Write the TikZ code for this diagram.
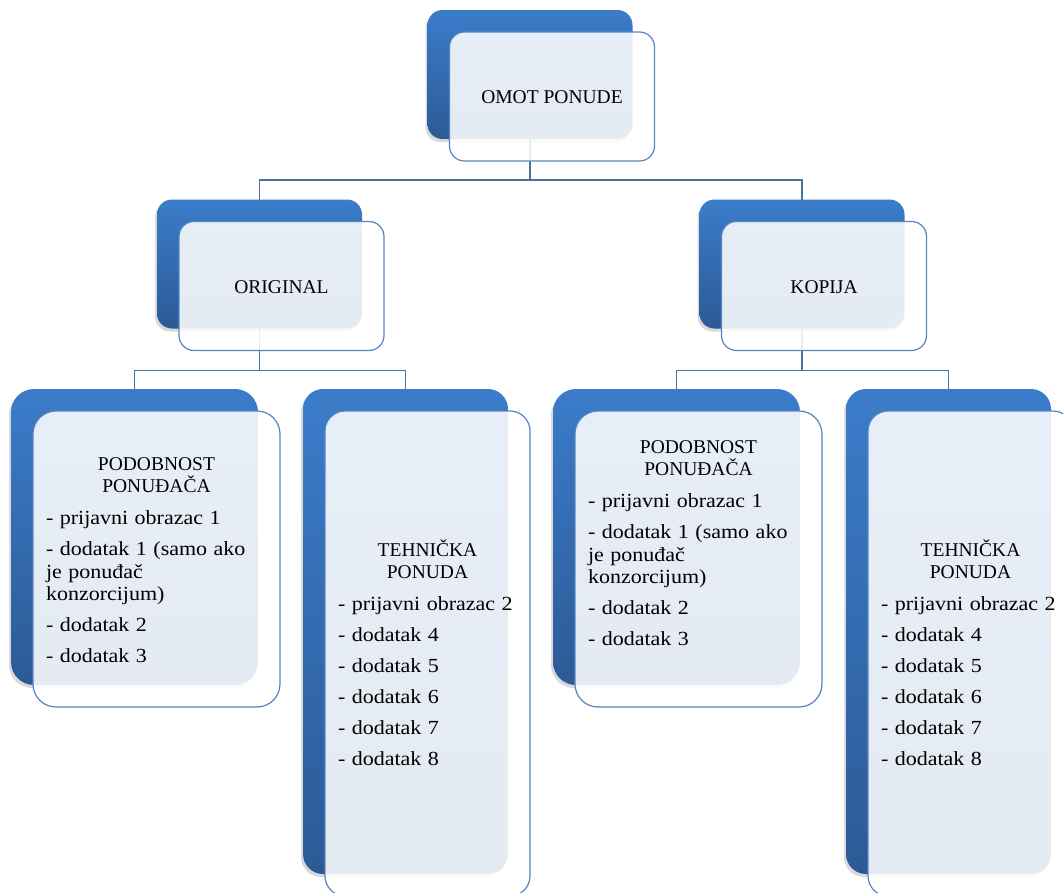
\documentclass[tikz,border=0pt]{standalone}
\usepackage{fontspec}
\setmainfont{Liberation Serif}
\newfontfamily\itemfont{Liberation Serif}[FakeStretch=1.1]
\usepackage{tikz}
\usetikzlibrary{shadows}
\definecolor{boxblue}{HTML}{3B7CCA}
\definecolor{boxdark}{HTML}{2C5A96}
\definecolor{rimblue}{HTML}{5585C1}
\definecolor{linkblue}{HTML}{46739F}
\tikzset{%
    back/.style={rectangle,inner sep=0pt,outer sep=0pt,top color=boxblue,bottom color=boxdark,
        drop shadow={shadow xshift=-2pt,shadow yshift=-3pt,opacity=0.3}},
    front/.style={rectangle,inner sep=0pt,outer sep=0pt,draw=rimblue,line width=1.2pt,fill=white,fill opacity=0.88},
    topsz/.style={minimum width=205pt,minimum height=129pt,rounded corners=15pt},
    podsz/.style={minimum width=247pt,minimum height=296pt,rounded corners=23pt},
    tehsz/.style={minimum width=205pt,minimum height=485pt,rounded corners=20pt},
    ttl/.style={inner sep=0pt,anchor=base,font=\fontsize{19.5}{22.5}\selectfont},
    lst/.style={inner sep=0pt,anchor=base,align=left,font=\fontsize{19.5}{22.5}\selectfont}
}
\begin{document}
\begin{tikzpicture}[x=1pt,y=-1pt,
            link/.style={draw=linkblue,line width=1.3pt}
            ]
            \useasboundingbox (0,0) rectangle (1063,892);

            % back boxes
            \node[back,topsz] (omot) at (530,74.5){};
            \node[back,topsz] (orig) at (259.5,264){};
            \node[back,topsz] (kop) at (802,264){};
            \node[back,podsz] (podL) at (134.5,537){};
            \node[back,tehsz] (tehL) at (405.5,631.5){};
            \node[back,podsz] (podR) at (676.5,537){};
            \node[back,tehsz] (tehR) at (948.5,631.5){};

            \draw[link] (omot.south) -- ++(0,41) -| (orig.north);
            \draw[link] (omot.south) -- ++(0,41) -| (kop.north);
            \draw[link] (orig.south) -- ++(0,42) -| (podL.north);
            \draw[link] (orig.south) -- ++(0,42) -| (tehL.north);
            \draw[link] (kop.south) -- ++(0,42) -| (podR.north);
            \draw[link] (kop.south) -- ++(0,42) -| (tehR.north);

            % front boxes
            \node[front,topsz] (omotF) at ([shift={(22,22)}]omot.center){};
            \node[front,topsz] (origF) at ([shift={(22,22)}]orig.center){};
            \node[front,topsz] (kopF) at ([shift={(22,22)}]kop.center){};
            \node[front,podsz] (podLF) at ([shift={(22,22)}]podL.center){};
            \node[front,tehsz] (tehLF) at ([shift={(22,22)}]tehL.center){};
            \node[front,podsz] (podRF) at ([shift={(22,22)}]podR.center){};
            \node[front,tehsz] (tehRF) at ([shift={(22,22)}]tehR.center){};

            % texts
            \node[ttl] (omotT) at ([shift={(0,7)}]omotF.center) {OMOT PONUDE};
            \node[ttl] (origT) at ([shift={(0,7)}]origF.center) {ORIGINAL};
            \node[ttl] (kopT) at ([shift={(0,7)}]kopF.center) {KOPIJA};

            \node[lst,text width=221pt] (podLT) at ([shift={(0,-89)}]podLF.center) {%
                {\centering PODOBNOST\\PONUĐAČA\par}\vspace{9.5pt}
                {\itemfont\fontsize{20}{22.5}\selectfont
                - prijavni obrazac 1\\[8.5pt]
                - dodatak 1 (samo ako\\je ponuđač\\konzorcijum)\\[8.5pt]
                - dodatak 2\\[8.5pt]
                - dodatak 3\par}};
            \node[lst,text width=221pt] (podRT) at ([shift={(0,-106)}]podRF.center) {%
                {\centering PODOBNOST\\PONUĐAČA\par}\vspace{9.5pt}
                {\itemfont\fontsize{20}{22.5}\selectfont
                - prijavni obrazac 1\\[8.5pt]
                - dodatak 1 (samo ako\\je ponuđač\\konzorcijum)\\[8.5pt]
                - dodatak 2\\[8.5pt]
                - dodatak 3\par}};
            \node[lst,text width=179pt] (tehLT) at ([shift={(0,-97.5)}]tehLF.center) {%
                {\centering TEHNIČKA\\PONUDA\par}\vspace{9.5pt}
                {\itemfont\fontsize{20}{22.5}\selectfont
                - prijavni obrazac 2\\[8.5pt]
                - dodatak 4\\[8.5pt]
                - dodatak 5\\[8.5pt]
                - dodatak 6\\[8.5pt]
                - dodatak 7\\[8.5pt]
                - dodatak 8\par}};
            \node[lst,text width=179pt] (tehRT) at ([shift={(0,-97.5)}]tehRF.center) {%
                {\centering TEHNIČKA\\PONUDA\par}\vspace{9.5pt}
                {\itemfont\fontsize{20}{22.5}\selectfont
                - prijavni obrazac 2\\[8.5pt]
                - dodatak 4\\[8.5pt]
                - dodatak 5\\[8.5pt]
                - dodatak 6\\[8.5pt]
                - dodatak 7\\[8.5pt]
                - dodatak 8\par}};
        \end{tikzpicture}
\end{document}
